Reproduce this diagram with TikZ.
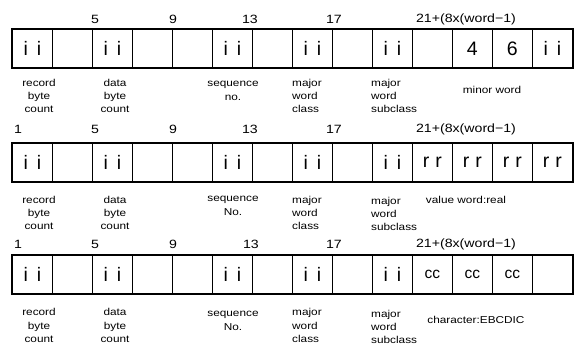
\documentclass[tikz,border=0pt]{standalone}
\usepackage{fontspec}
\setmainfont{Liberation Sans}
\newfontfamily\widefont[FakeStretch=1.18]{Liberation Sans}
\newcommand\pairI{i\hspace{9pt}i}
\newcommand\pairR{r\hspace{6pt}r}
\begin{document}
\begin{tikzpicture}[x=1pt,y=-1pt,
  cell/.style={draw, line width=0.8pt, minimum width=40pt, minimum height=38pt, inner sep=0pt, anchor=north west, font=\fontsize{19.5}{19.5}\selectfont},
  frame/.style={line width=2.2pt},
  num/.style={font=\widefont\fontsize{12}{12}\selectfont, inner sep=0pt},
  lbl/.style={font=\widefont\fontsize{10}{13.3}\selectfont, inner sep=0pt, align=center},
  lbll/.style={lbl, align=left, anchor=west}]
\useasboundingbox (0,0) rectangle (574,345);
% row 1
\foreach \t [count=\i] in {\pairI,,\pairI,,,\pairI,,\pairI,,\pairI,,4,6,\pairI}
  \node[cell] (a\i) at ({12+40*(\i-1)},29) {\t};
\draw[frame] (a1.north west) rectangle (a14.south east);
% row 2
\foreach \t [count=\i] in {\pairI,,\pairI,,,\pairI,,\pairI,,\pairI,\pairR,\pairR,\pairR,\pairR}
  \node[cell] (b\i) at ({12+40*(\i-1)},143) {\t};
\draw[frame] (b1.north west) rectangle (b14.south east);
% row 3
\foreach \t [count=\i] in {\pairI,,\pairI,,,\pairI,,\pairI,,\pairI,{\fontsize{15.5}{15.5}\selectfont cc},{\fontsize{15.5}{15.5}\selectfont cc},{\fontsize{15.5}{15.5}\selectfont cc},}
  \node[cell] (c\i) at ({12+40*(\i-1)},255) {\t};
\draw[frame] (c1.north west) rectangle (c14.south east);
% numbers
\node[num] (n15) at (95,19) {5};
\node[num] (n19) at (173,19) {9};
\node[num] (n113) at (250,19) {13};
\node[num] (n117) at (334,19) {17};
\node[num] (n121) at (466,19) {21+(8x(word−1)};
\node[num] (n21) at (18,129) {1};
\node[num] (n25) at (95,129) {5};
\node[num] (n29) at (173,129) {9};
\node[num] (n213) at (250,129) {13};
\node[num] (n217) at (334,129) {17};
\node[num] (n221) at (466,129) {21+(8x(word−1)};
\node[num] (n31) at (18,244) {1};
\node[num] (n35) at (95,244) {5};
\node[num] (n39) at (173,244) {9};
\node[num] (n313) at (251,244) {13};
\node[num] (n317) at (334,244) {17};
\node[num] (n321) at (466,244) {21+(8x(word−1)};
% labels row 1
\node[lbl] (l1a) at (39,96) {record\\byte\\count};
\node[lbl] (l1b) at (115,96) {data\\byte\\count};
\node[lbl] (l1c) at (233,91) {sequence\\no.};
\node[lbll] (l1d) at (292,96) {major\\word\\class};
\node[lbll] (l1e) at (371,96) {major\\word\\subclass};
\node[lbl] (l1f) at (492,90) {minor word};
% labels row 2
\node[lbl] (l2a) at (39,213) {record\\byte\\count};
\node[lbl] (l2b) at (115,213) {data\\byte\\count};
\node[lbl] (l2c) at (233,206) {sequence\\No.};
\node[lbll] (l2d) at (292,213) {major\\word\\class};
\node[lbll] (l2e) at (371,214) {major\\word\\subclass};
\node[lbl] (l2f) at (466,200) {value word:real};
% labels row 3
\node[lbl] (l3a) at (39,325.5) {record\\byte\\count};
\node[lbl] (l3b) at (115,325.5) {data\\byte\\count};
\node[lbl] (l3c) at (233,321) {sequence\\No.};
\node[lbll] (l3d) at (292,325.5) {major\\word\\class};
\node[lbll] (l3e) at (371,327) {major\\word\\subclass};
\node[lbl] (l3f) at (476,320) {character:EBCDIC};
\end{tikzpicture}
\end{document}
